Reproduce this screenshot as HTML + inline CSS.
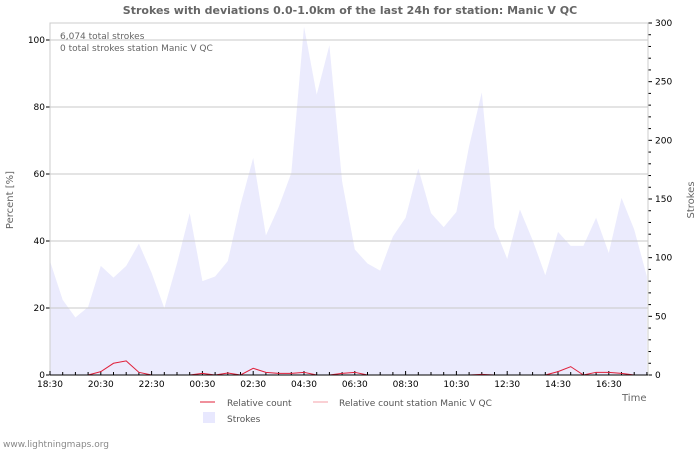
<!DOCTYPE html>
<html><head><meta charset="utf-8"><style>
body{margin:0;background:#fff;font-family:"DejaVu Sans","Liberation Sans",sans-serif;}
svg text{font-family:"DejaVu Sans","Liberation Sans",sans-serif;}
</style></head><body>
<svg id="c" width="700" height="450" xmlns="http://www.w3.org/2000/svg">
<text x="350" y="14" text-anchor="middle" font-size="11" font-weight="bold" fill="#666">Strokes with deviations 0.0-1.0km of the last 24h for station: Manic V QC</text>
<g id="plot"></g>
<text x="60" y="39" font-size="9" fill="#666">6,074 total strokes</text>
<text x="60" y="51" font-size="9" fill="#666">0 total strokes station Manic V QC</text>
<text transform="translate(13,200) rotate(-90)" text-anchor="middle" font-size="10" fill="#666">Percent   [%]</text>
<text transform="translate(694,200) rotate(-90)" text-anchor="middle" font-size="10" fill="#666">Strokes</text>
<text x="622" y="401" font-size="10" fill="#666">Time</text>
<g>
<line x1="200" y1="402" x2="215" y2="402" stroke="#e0203a"/>
<text x="227" y="406" font-size="9" fill="#555">Relative count</text>
<line x1="313" y1="402" x2="328" y2="402" stroke="#f4a0a8"/>
<text x="339" y="406" font-size="9" fill="#555">Relative count station Manic V QC</text>
<rect x="203" y="412" width="12" height="11" fill="#e8e8fe"/>
<text x="227" y="422" font-size="9" fill="#555">Strokes</text>
</g>
<text x="3" y="447" font-size="9" fill="#888">www.lightningmaps.org</text>
</svg>
<script>
const xLabels=["18:30","20:30","22:30","00:30","02:30","04:30","06:30","08:30","10:30","12:30","14:30","16:30"];
const leftTicks=[0,20,40,60,80,100];
const rightTicks=[0,50,100,150,200,250,300];
const strokes=[97,64,49,58,93,83,93,112,87,57,95,138,80,84,97,145,185,119,143,172,297,239,281,165,107,95,89,118,134,176,138,126,139,195,241,126,99,141,115,85,122,110,110,134,104,151,124,84];
const relative=[null,null,null,0,1,3.5,4.2,0.8,0,null,null,0,0.5,0,0.6,0,2,0.8,0.5,0.5,0.8,0,0,0.5,0.8,0,null,null,null,null,null,null,null,0,0.2,0,null,null,null,0,1,2.5,0,0.8,0.8,0.5,0,null];
const X0=50,X1=648,Y0=375,YT=23;
const xs=i=>X0+i*12.7;
const yL=v=>Y0-v*3.35;
const yR=v=>Y0-v*(Y0-YT)/300;
const g=document.getElementById('plot');const NS="http://www.w3.org/2000/svg";
function mk(t,a){const e=document.createElementNS(NS,t);for(const k in a)e.setAttribute(k,a[k]);g.appendChild(e);return e;}
let d=`M${xs(0)},${Y0}`;strokes.forEach((v,i)=>d+=` L${xs(i)},${yR(v)}`);d+=` L${xs(strokes.length-1)},${Y0} Z`;
const area=mk('path',{d,fill:'#ebebfd'});


leftTicks.forEach(v=>{if(v>0){const l=mk('line',{x1:X0,x2:X1,y1:yL(v),y2:yL(v),stroke:'#c8c8c8'});

}
mk('line',{x1:X0-4,x2:X0,y1:yL(v),y2:yL(v),stroke:'#000'});
const t=mk('text',{x:X0-5,y:yL(v)+3,'text-anchor':'end','font-size':'9',fill:'#000'});t.textContent=v;

});
for(let v=0;v<=300;v+=10){mk('line',{x1:X1,x2:X1+(v%50==0?4:3),y1:yR(v),y2:yR(v),stroke:'#000'});}
rightTicks.forEach(v=>{const t=mk('text',{x:X1+7,y:yR(v)+3,'font-size':'9',fill:'#000'});t.textContent=v;

});
mk('rect',{x:X0,y:YT,width:X1-X0,height:Y0-YT,fill:'none',stroke:'#ccc'});
for(let i=0;i<48;i++){mk('line',{x1:xs(i),x2:xs(i),y1:Y0,y2:Y0-(i%4==0?4:3),stroke:'#000'});}
xLabels.forEach((s,j)=>{const t=mk('text',{x:xs(j*4),y:Y0+12,'text-anchor':'middle','font-size':'9',fill:'#000'});t.textContent=s;

});
let p='';relative.forEach((v,i)=>{if(v===null){return;}p+=(i>0&&relative[i-1]!==null?' L':' M')+xs(i)+','+yL(v);});
const ln=mk('path',{d:p,fill:'none',stroke:'#e0203a','stroke-width':'1'});


mk('line',{x1:X0,x2:X1,y1:Y0,y2:Y0,stroke:'#000'});
</script>
</body></html>
